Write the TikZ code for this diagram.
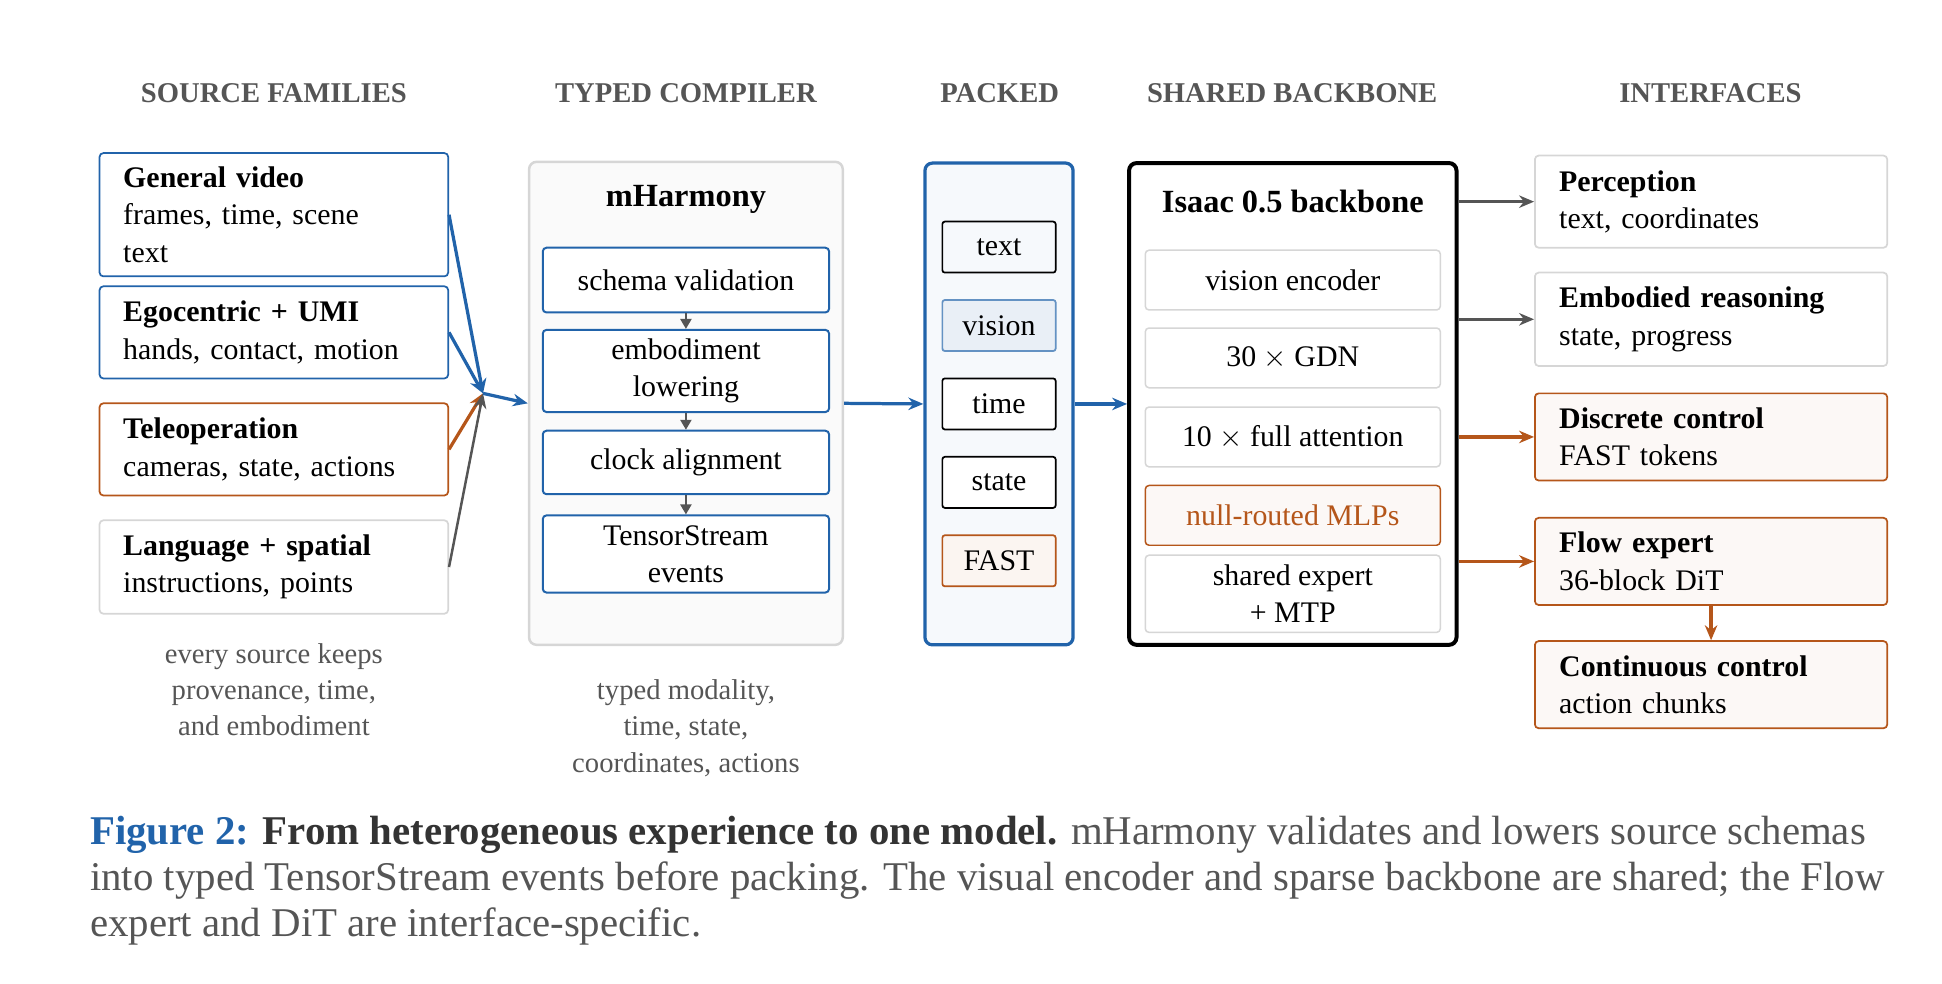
\documentclass[tikz,border=0pt]{standalone}
\usepackage{fontspec}
\setmainfont{Liberation Serif}
\usetikzlibrary{arrows.meta}
\definecolor{cblue}{HTML}{2163AA}
\definecolor{corange}{HTML}{B5561A}
\definecolor{cgray}{HTML}{555555}
\definecolor{lgray}{HTML}{D6D6D6}
\begin{document}
\begin{tikzpicture}[x=0.5pt,y=-0.5pt,
  hdr/.style={font=\fontsize{11.5}{14}\selectfont\bfseries, text=cgray},
  src/.style={draw, rounded corners=1.5pt, line width=0.7pt, minimum width=140pt, text width=121pt, inner xsep=9.5pt, align=left, font=\fontsize{12}{15}\selectfont},
  ifc/.style={src, minimum width=141.5pt, text width=122pt},
  inb/.style={draw=cblue, rounded corners=1.5pt, line width=0.8pt, minimum width=115pt, align=center, font=\fontsize{12}{15}\selectfont},
  pk/.style={draw, rounded corners=1pt, line width=0.7pt, minimum width=45.5pt, minimum height=20.5pt, font=\fontsize{12}{15}\selectfont},
  bb/.style={draw=lgray, fill=white, rounded corners=1.5pt, line width=0.6pt, minimum width=118.5pt, minimum height=24pt, align=center, font=\fontsize{12}{15}\selectfont},
  note/.style={text=cgray, align=center, font=\fontsize{11.5}{14.5}\selectfont},
  arr/.style={-{Stealth[length=6pt,width=5pt]}, line width=1.3pt},
  sarr/.style={-{Triangle[length=4pt,width=4.5pt]}, line width=0.7pt, draw=cgray}]
\useasboundingbox (0,0) rectangle (1560,790);
% headers
\node[hdr] (h1) at (220,75) {SOURCE FAMILIES};
\node[hdr] (h2) at (551,75) {TYPED COMPILER};
\node[hdr] (h3) at (803,75) {PACKED};
\node[hdr] (h4) at (1038,75) {SHARED BACKBONE};
\node[hdr] (h5) at (1374,75) {INTERFACES};
% sources
\node[src, draw=cblue, minimum height=49.5pt] (gv) at (220,172.5) {\textbf{General video}\\frames, time, scene\\text};
\node[src, draw=cblue, minimum height=37pt] (eg) at (220,267) {\textbf{Egocentric + UMI}\\hands, contact, motion};
\node[src, draw=corange, minimum height=37pt] (te) at (220,361) {\textbf{Teleoperation}\\cameras, state, actions};
\node[src, draw=lgray, minimum height=37.5pt] (la) at (220,455.5) {\textbf{Language + spatial}\\instructions, points};
\node[note] (n1) at (220,554) {every source keeps\\provenance, time,\\and embodiment};
\coordinate (m) at (388,316);
\draw[arr, cblue] (gv.east) -- (m);
\draw[arr, cblue] (eg.east) -- (m);
\draw[arr, corange] (te.east) -- (m);
\draw[arr, cgray, line width=1pt] (la.east) -- (m);
% compiler
\node[draw=lgray, fill=gray!4, rounded corners=3pt, line width=1pt, minimum width=126pt, minimum height=194pt] (mh) at (551,324) {};
\draw[arr, cblue] (m) -- (mh.west);
\node[font=\fontsize{13}{15}\selectfont\bfseries] (mht) at (551,160) {mHarmony};
\node[inb, fill=white, minimum height=26pt] (c1) at (551,225) {schema validation};
\node[inb, fill=white, minimum height=33pt] (c2) at (551,298) {embodiment\\lowering};
\node[inb, fill=white, minimum height=25.5pt] (c3) at (551,371.5) {clock alignment};
\node[inb, fill=white, minimum height=31pt] (c4) at (551,445) {TensorStream\\events};
\draw[sarr] (c1.south) -- (c2.north);
\draw[sarr] (c2.south) -- (c3.north);
\draw[sarr] (c3.south) -- (c4.north);
\node[note] (n2) at (551,585) {typed modality,\\time, state,\\coordinates, actions};
% packed
\node[draw=cblue, fill=cblue!4, rounded corners=3pt, line width=1.3pt, minimum width=59.5pt, minimum height=193.5pt] (pa) at (802.5,324.5) {};
\draw[arr, cblue] (mh.east) -- (pa.west);
\node[pk] (p1) at (802.5,198.5) {text};
\node[pk, draw=cblue!70, fill=cblue!10] (p2) at (802.5,261.5) {vision};
\node[pk, fill=white] (p3) at (802.5,324.5) {time};
\node[pk, fill=white] (p4) at (802.5,387.5) {state};
\node[pk, draw=corange, fill=corange!6] (p5) at (802.5,450.5) {FAST};
% backbone
\node[draw=black, fill=white, rounded corners=3pt, line width=1.6pt, minimum width=131.5pt, minimum height=193.5pt] (bk) at (1038.5,324.5) {};
\draw[arr, cblue] (pa.east) -- (bk.west);
\node[font=\fontsize{13}{15}\selectfont\bfseries] (bkt) at (1038.5,162) {Isaac 0.5 backbone};
\node[bb] (b1) at (1038.5,225) {vision encoder};
\node[bb] (b2) at (1038.5,287.5) {30 $\times$ GDN};
\node[bb] (b3) at (1038.5,351) {10 $\times$ full attention};
\node[bb, draw=corange, text=corange, fill=corange!4] (b4) at (1038.5,414) {null-routed MLPs};
\node[bb, minimum height=31pt] (b5) at (1038.5,477) {shared expert\\+ MTP};
% interfaces
\node[ifc, draw=lgray, minimum height=37pt] (i1) at (1374.5,162) {\textbf{Perception}\\text, coordinates};
\node[ifc, draw=lgray, minimum height=37.5pt] (i2) at (1374.5,256.5) {\textbf{Embodied reasoning}\\state, progress};
\node[ifc, draw=corange, fill=corange!4, minimum height=35pt] (i3) at (1374.5,351) {\textbf{Discrete control}\\FAST tokens};
\node[ifc, draw=corange, fill=corange!4, minimum height=35pt] (i4) at (1374.5,451) {\textbf{Flow expert}\\36-block DiT};
\node[ifc, draw=corange, fill=corange!4, minimum height=35pt] (i5) at (1374.5,550) {\textbf{Continuous control}\\action chunks};
\draw[arr, cgray, line width=1pt] (bk.east |- i1.west) -- (i1.west);
\draw[arr, cgray, line width=1pt] (bk.east |- i2.west) -- (i2.west);
\draw[arr, corange] (bk.east |- i3.west) -- (i3.west);
\draw[arr, corange] (bk.east |- i4.west) -- (i4.west);
\draw[arr, corange] (i4.south) -- (i5.north);
% caption
\node[anchor=north west, align=left, inner sep=0pt, text=cgray, font=\fontsize{16.4}{18.5}\selectfont] (cap) at (72,655) {\textcolor{cblue}{\textbf{Figure 2:}} \textcolor{black!80}{\textbf{From heterogeneous experience to one model.}} mHarmony validates and lowers source schemas\\into typed TensorStream events before packing. The visual encoder and sparse backbone are shared; the Flow\\expert and DiT are interface-specific.};
\end{tikzpicture}
\end{document}
